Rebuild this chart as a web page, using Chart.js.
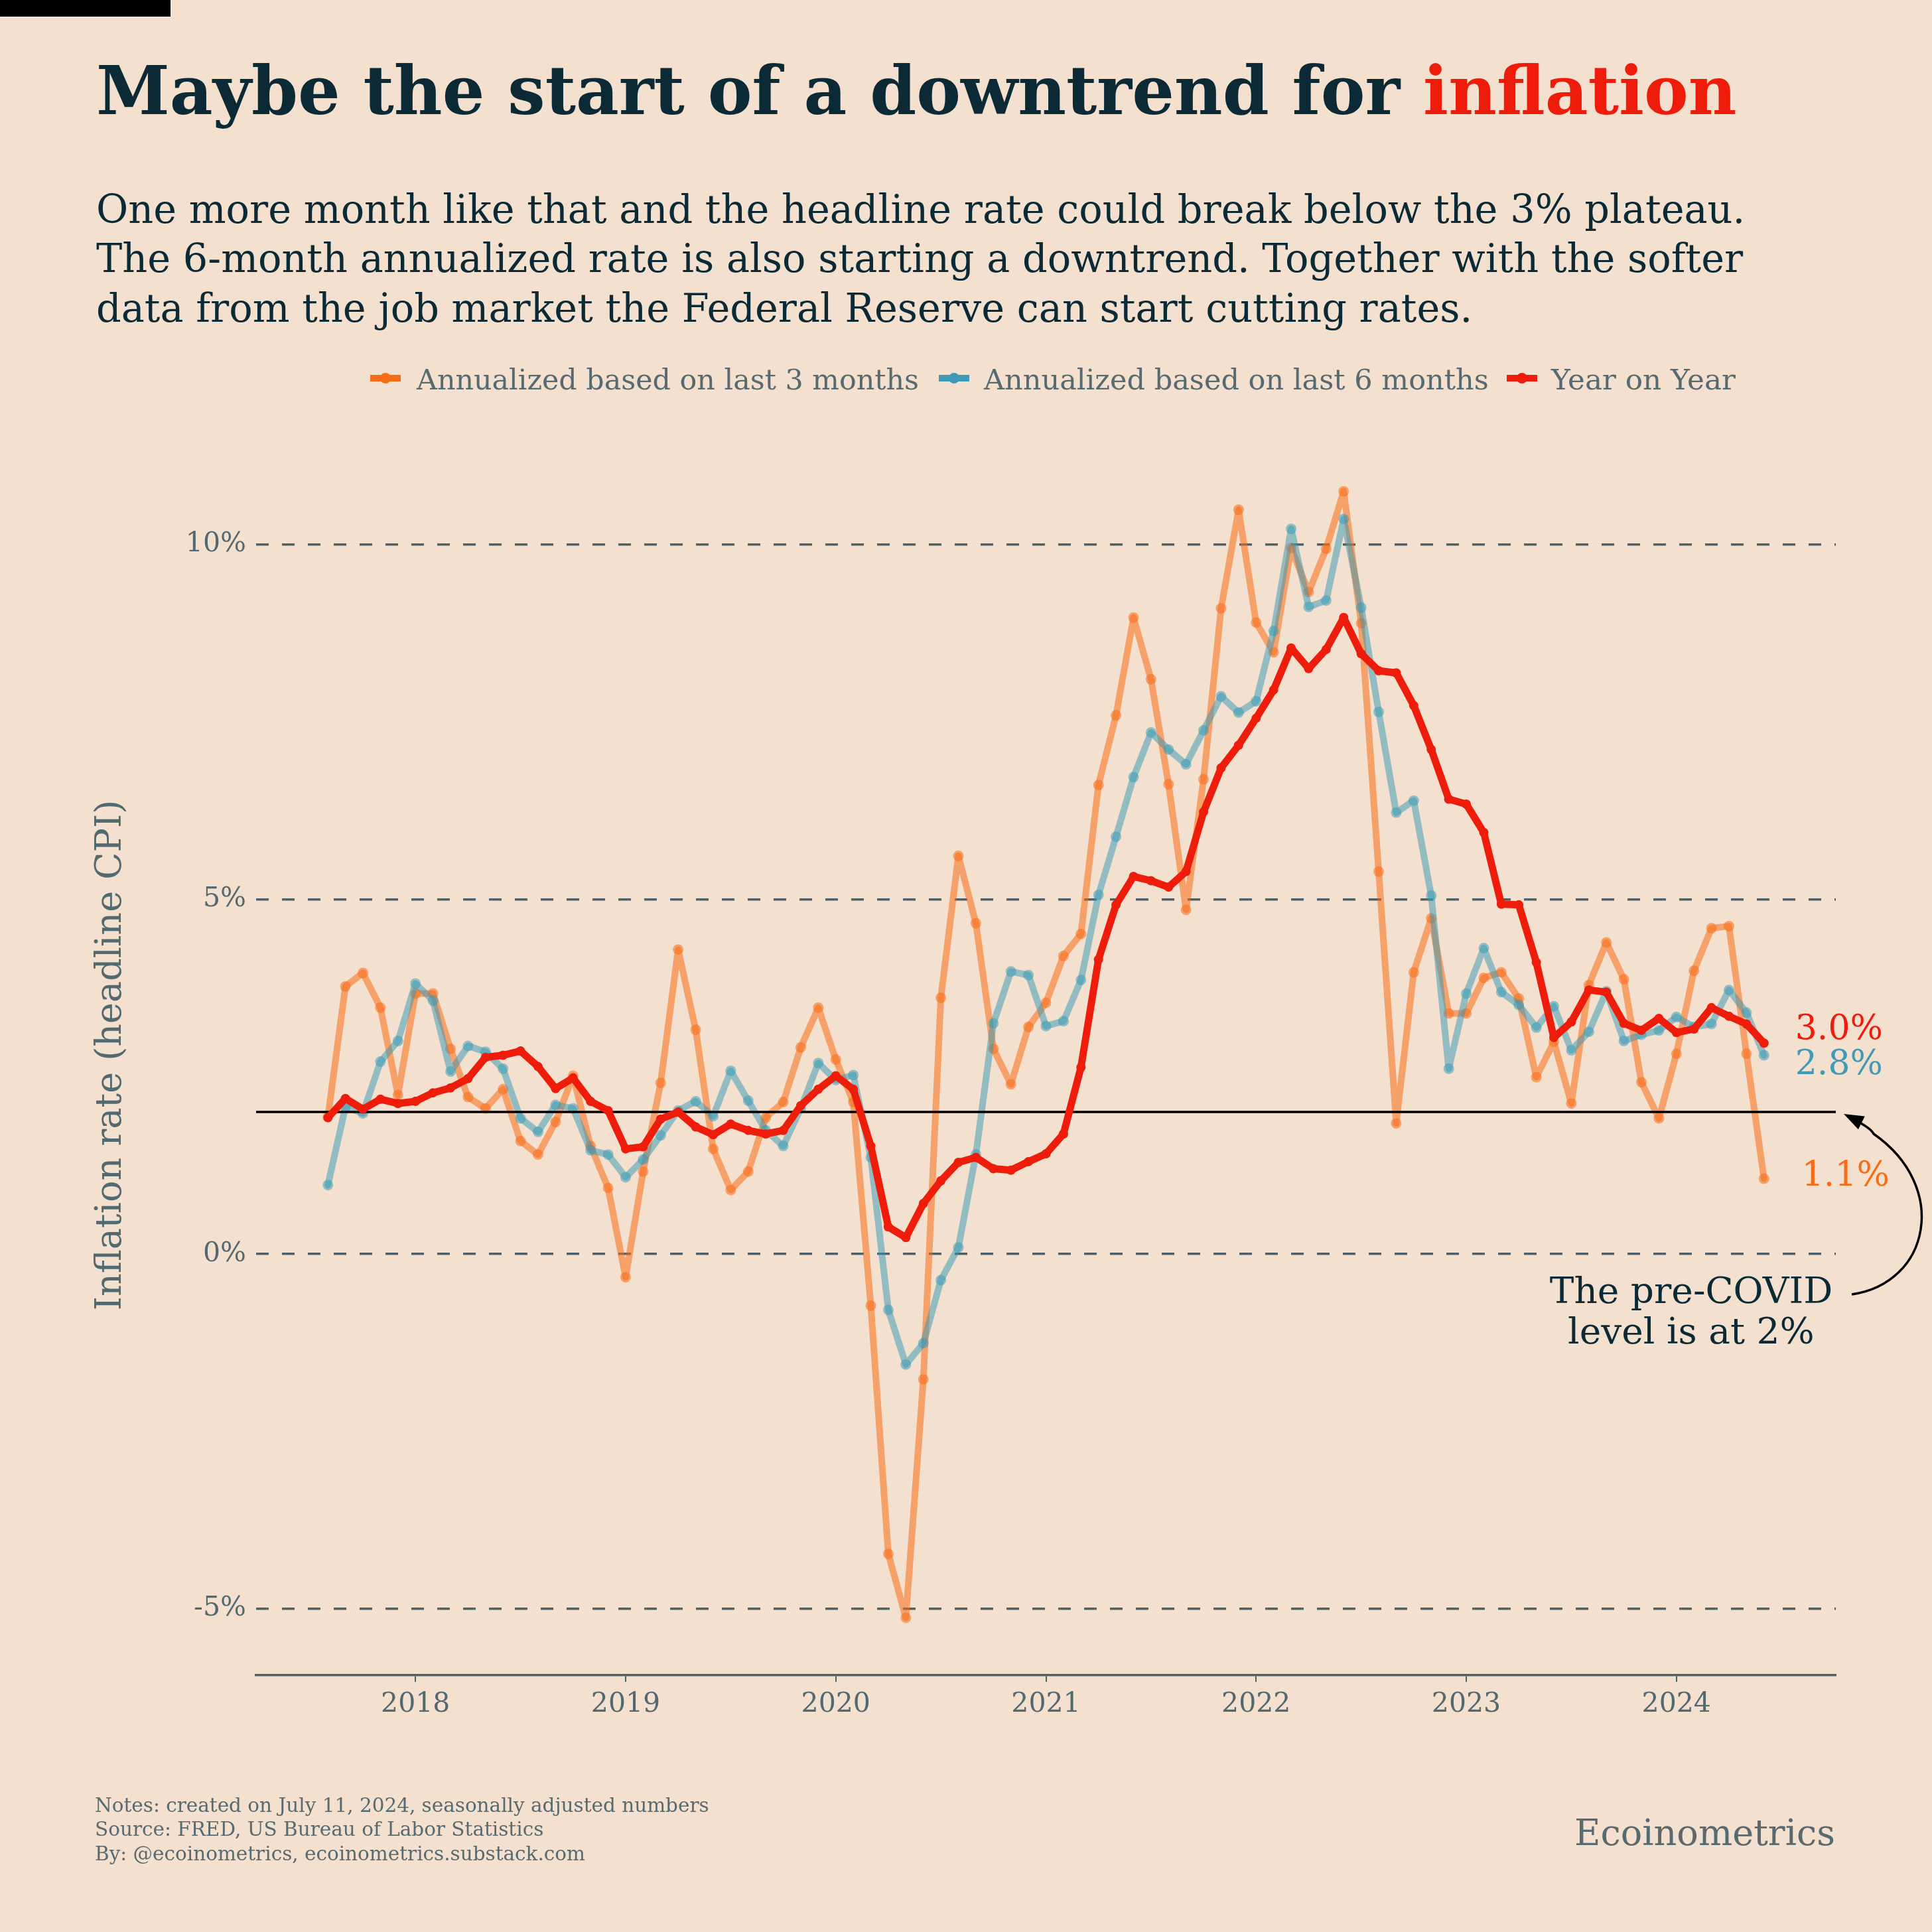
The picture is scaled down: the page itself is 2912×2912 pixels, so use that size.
<!DOCTYPE html>
<html>
<head>
<meta charset="utf-8">
<script src="https://cdn.jsdelivr.net/npm/chart.js@4.4.1/dist/chart.umd.min.js"></script>
<style>
  body { margin: 0; background: #f3e0cf; }
  #page { position: relative; width: 2912px; height: 2912px; background: #f3e0cf; overflow: hidden; }
  #page canvas { position: absolute; left: 0; top: 0; }
  .txt { position: absolute; white-space: nowrap; line-height: 1; font-family: "DejaVu Serif", serif; color: #0b2a36; }
  .gray { color: #566a70; }
  .mark { position: absolute; width: 46px; height: 10px; }
  .mark i { position: absolute; left: 15px; top: -3px; width: 16px; height: 16px; border-radius: 50%; background: inherit; }
  #topbar { position: absolute; left: 0; top: 0; width: 257px; height: 25px; background: #000; }
  #note { position: absolute; left: 2249px; top: 1915px; width: 600px; text-align: center; font-family: "DejaVu Serif", serif; font-size: 55px; line-height: 61px; color: #0b2a36; }
</style>
</head>
<body>
<div id="page">
  <canvas id="chart" width="2912" height="2912"></canvas>
  <div id="topbar"></div>
  <div class="txt" id="title" style="font-weight:bold">Maybe the start of a downtrend for <span style="color:#ee1c0b">inflation</span></div>
  <div class="txt" id="sub1">One more month like that and the headline rate could break below the 3% plateau.</div>
  <div class="txt" id="sub2">The 6-month annualized rate is also starting a downtrend. Together with the softer</div>
  <div class="txt" id="sub3">data from the job market the Federal Reserve can start cutting rates.</div>

  <div class="mark" style="left:558px;top:565px;background:#f86c17"><i></i></div>
  <div class="txt gray" id="leg1">Annualized based on last 3 months</div>
  <div class="mark" style="left:1415px;top:565px;background:#3e9ab5"><i></i></div>
  <div class="txt gray" id="leg2">Annualized based on last 6 months</div>
  <div class="mark" style="left:2271px;top:565px;background:#ee1c0b"><i></i></div>
  <div class="txt gray" id="leg3">Year on Year</div>

  <div id="note">The pre-COVID<br>level is at 2%</div>

  <div class="txt gray" id="foot1">Notes: created on July 11, 2024, seasonally adjusted numbers</div>
  <div class="txt gray" id="foot2">Source: FRED, US Bureau of Labor Statistics</div>
  <div class="txt gray" id="foot3">By: @ecoinometrics, ecoinometrics.substack.com</div>
  <div class="txt gray" id="brand">Ecoinometrics</div>
</div>
<script>
// months on the x axis, Aug 2017 .. Jun 2024
const months = [
  '2017-08','2017-09','2017-10','2017-11','2017-12',
  '2018-01','2018-02','2018-03','2018-04','2018-05','2018-06','2018-07','2018-08','2018-09','2018-10','2018-11','2018-12',
  '2019-01','2019-02','2019-03','2019-04','2019-05','2019-06','2019-07','2019-08','2019-09','2019-10','2019-11','2019-12',
  '2020-01','2020-02','2020-03','2020-04','2020-05','2020-06','2020-07','2020-08','2020-09','2020-10','2020-11','2020-12',
  '2021-01','2021-02','2021-03','2021-04','2021-05','2021-06','2021-07','2021-08','2021-09','2021-10','2021-11','2021-12',
  '2022-01','2022-02','2022-03','2022-04','2022-05','2022-06','2022-07','2022-08','2022-09','2022-10','2022-11','2022-12',
  '2023-01','2023-02','2023-03','2023-04','2023-05','2023-06','2023-07','2023-08','2023-09','2023-10','2023-11','2023-12',
  '2024-01','2024-02','2024-03','2024-04','2024-05','2024-06'
];

// annualized on last 3 months (%)
const annual3m = [
  1.93, 3.77, 3.96, 3.47, 2.24,
  3.67, 3.67, 2.89, 2.21, 2.05, 2.32, 1.59, 1.40, 1.86, 2.51, 1.52, 0.93,
  -0.33, 1.16, 2.41, 4.29, 3.16, 1.48, 0.90, 1.16, 1.92, 2.14, 2.91, 3.47,
  2.74, 2.14, -0.73, -4.23, -5.13, -1.77, 3.61, 5.61, 4.66, 2.89, 2.39, 3.20,
  3.54, 4.20, 4.51, 6.61, 7.59, 8.97, 8.10, 6.62, 4.85, 6.69, 9.10, 10.49,
  8.90, 8.48, 9.95, 9.33, 9.94, 10.75, 8.89, 5.39, 1.84, 3.97, 4.73, 3.39,
  3.39, 3.89, 3.97, 3.60, 2.49, 2.99, 2.12, 3.79, 4.39, 3.87, 2.42, 1.91,
  2.82, 3.99, 4.59, 4.62, 2.82, 1.06
];

// annualized on last 6 months (%)
const annual6m = [
  0.97, 2.07, 1.98, 2.71, 3.00,
  3.81, 3.57, 2.57, 2.93, 2.85, 2.61, 1.91, 1.72, 2.10, 2.05, 1.46, 1.40,
  1.08, 1.33, 1.67, 2.02, 2.15, 1.94, 2.58, 2.16, 1.74, 1.52, 2.05, 2.69,
  2.45, 2.52, 1.36, -0.79, -1.56, -1.26, -0.37, 0.09, 1.40, 3.25, 3.98, 3.93,
  3.21, 3.28, 3.86, 5.06, 5.88, 6.72, 7.35, 7.11, 6.90, 7.38, 7.86, 7.63,
  7.79, 8.78, 10.22, 9.12, 9.21, 10.36, 9.11, 7.64, 6.22, 6.39, 5.05, 2.61,
  3.67, 4.31, 3.69, 3.51, 3.19, 3.49, 2.87, 3.13, 3.70, 3.00, 3.09, 3.15,
  3.34, 3.20, 3.24, 3.72, 3.40, 2.80
];

// year on year (%)
const yoy = [
  1.92, 2.19, 2.04, 2.18, 2.12,
  2.15, 2.27, 2.34, 2.47, 2.77, 2.80, 2.86, 2.64, 2.33, 2.48, 2.15, 2.02,
  1.48, 1.51, 1.90, 2.00, 1.79, 1.68, 1.83, 1.74, 1.69, 1.74, 2.09, 2.32,
  2.51, 2.32, 1.52, 0.38, 0.23, 0.71, 1.03, 1.29, 1.36, 1.20, 1.18, 1.30,
  1.41, 1.69, 2.63, 4.15, 4.92, 5.32, 5.26, 5.17, 5.39, 6.23, 6.85, 7.17,
  7.55, 7.95, 8.54, 8.25, 8.52, 8.97, 8.46, 8.22, 8.19, 7.73, 7.11, 6.41,
  6.34, 5.94, 4.93, 4.92, 4.11, 3.05, 3.27, 3.72, 3.69, 3.25, 3.15, 3.32,
  3.12, 3.17, 3.47, 3.35, 3.24, 2.97
];

const preCovidLevel = 2;
const xTickLabels = ['2018', '2019', '2020', '2021', '2022', '2023', '2024'];
const yTicks = [-5, 0, 5, 10];

const FONT = '"DejaVu Serif", serif';
const GRAY = '#536970';
const GRID = '#4e6168';

// size html text so it spans the same width as in the original
const measure = document.createElement('canvas').getContext('2d');
function fitText(id, left, baseline, width, weight) {
  const el = document.getElementById(id);
  measure.font = `${weight || 'normal'} 100px ${FONT}`;
  const size = 100 * width / measure.measureText(el.textContent).width;
  placeText(id, left, baseline, size);
  return size;
}
function placeText(id, left, baseline, size) {
  const el = document.getElementById(id);
  el.style.fontSize = size + 'px';
  el.style.left = left + 'px';
  el.style.top = (baseline - 0.846 * size) + 'px';
}

fitText('title', 145, 172, 2473, 'bold');
const subSize = fitText('sub1', 145, 337, 2486);
placeText('sub2', 145, 411, subSize);
placeText('sub3', 145, 486, subSize);
fitText('leg1', 628, 587, 757);
fitText('leg2', 1483, 587, 761);
fitText('leg3', 2338, 587, 278);
const footSize = fitText('foot1', 143, 2732, 926);
placeText('foot2', 143, 2768, footSize);
placeText('foot3', 143, 2805, footSize);
fitText('brand', 2373, 2782, 393);

const xTickPos = xTickLabels.map(y => months.indexOf(y + '-01'));
const toPoints = arr => arr.map((v, i) => ({ x: i, y: v }));

// last values written next to the line ends, plus the curved arrow
const endLabels = {
  id: 'endLabels',
  afterDatasetsDraw(chart) {
    const { ctx, scales: { x, y }, chartArea } = chart;
    const last = months.length - 1;
    const px = x.getPixelForValue(last);
    ctx.save();
    ctx.font = `52px ${FONT}`;
    ctx.textBaseline = 'middle';
    ctx.textAlign = 'left';
    [[yoy, '#ee1c0b', -20, 47], [annual6m, '#3e9ab5', 15, 47], [annual3m, '#f86c17', -3, 57]].forEach(([arr, col, dy, dx]) => {
      ctx.fillStyle = col;
      ctx.fillText(arr[last].toFixed(1) + '%', px + dx, y.getPixelForValue(arr[last]) + dy);
    });

    const tipX = chartArea.right + 12, tipY = y.getPixelForValue(preCovidLevel) + 3;
    const c2x = tipX + 145, c2y = tipY + 100;
    ctx.strokeStyle = '#000';
    ctx.fillStyle = '#000';
    ctx.lineWidth = 3.5;
    ctx.beginPath();
    ctx.moveTo(tipX + 12, tipY + 272);
    ctx.bezierCurveTo(tipX + 130, tipY + 255, tipX + 160, tipY + 110, c2x - 100, c2y - 70);
    ctx.quadraticCurveTo(tipX + 40, tipY + 20, tipX + 14, tipY + 8);
    ctx.stroke();
    const ang = Math.atan2(tipY - (tipY + 20), tipX - (tipX + 40));
    ctx.beginPath();
    ctx.moveTo(tipX, tipY);
    ctx.lineTo(tipX - 30 * Math.cos(ang) + 11 * Math.sin(ang), tipY - 30 * Math.sin(ang) - 11 * Math.cos(ang));
    ctx.lineTo(tipX - 30 * Math.cos(ang) - 11 * Math.sin(ang), tipY - 30 * Math.sin(ang) + 11 * Math.cos(ang));
    ctx.closePath();
    ctx.fill();
    ctx.restore();
  }
};

new Chart(document.getElementById('chart'), {
  type: 'line',
  data: {
    datasets: [
      {
        label: 'Year on Year', data: toPoints(yoy), order: 0,
        borderColor: '#ee1c0b', backgroundColor: '#ee1c0b',
        borderWidth: 11, pointRadius: 7, pointBorderWidth: 0
      },
      {
        label: 'pre-COVID level', order: 1,
        data: [{ x: -4.1, y: preCovidLevel }, { x: months.length + 3.1, y: preCovidLevel }],
        borderColor: '#000', borderWidth: 3.5, pointRadius: 0
      },
      {
        label: 'Annualized based on last 6 months', data: toPoints(annual6m), order: 2,
        borderColor: 'rgba(51,152,181,0.5)', backgroundColor: 'rgba(51,152,181,0.5)',
        borderWidth: 10, pointRadius: 8, pointBorderWidth: 0
      },
      {
        label: 'Annualized based on last 3 months', data: toPoints(annual3m), order: 3,
        borderColor: 'rgba(248,108,23,0.55)', backgroundColor: 'rgba(248,108,23,0.55)',
        borderWidth: 10, pointRadius: 8, pointBorderWidth: 0
      }
    ]
  },
  options: {
    responsive: false,
    animation: false,
    devicePixelRatio: 1,
    elements: { line: { tension: 0, borderJoinStyle: 'round', borderCapStyle: 'round' } },
    layout: { padding: { left: 0, right: 145, top: 656, bottom: 307 } },
    plugins: { legend: { display: false }, tooltip: { enabled: false } },
    scales: {
      x: {
        type: 'linear', min: -4.1, max: months.length + 3.1,
        afterBuildTicks: s => { s.ticks = xTickPos.map(v => ({ value: v })); },
        afterFit: s => { s.height = 80; },
        ticks: {
          autoSkip: false, maxRotation: 0, padding: 10, color: GRAY,
          font: { family: FONT, size: 41 },
          callback: v => xTickLabels[xTickPos.indexOf(v)]
        },
        grid: { drawOnChartArea: false, drawTicks: true, tickLength: 10, color: GRID, lineWidth: 2 },
        border: { display: true, color: GRID, width: 3.5 }
      },
      y: {
        min: -5.94, max: 11.54,
        afterBuildTicks: s => { s.ticks = yTicks.map(v => ({ value: v })); },
        afterFit: s => { s.width = 386; },
        ticks: {
          padding: 15, color: GRAY,
          font: { family: FONT, size: 41 },
          callback: v => v + '%'
        },
        grid: { color: GRID, lineWidth: 3.5, drawTicks: false },
        border: { display: false, dash: [19, 20] },
        title: {
          display: true, text: 'Inflation rate (headline CPI)', color: GRAY,
          font: { family: FONT, size: 54 }, padding: { top: 136, bottom: 0 }
        }
      }
    }
  },
  plugins: [endLabels]
});
</script>
</body>
</html>
